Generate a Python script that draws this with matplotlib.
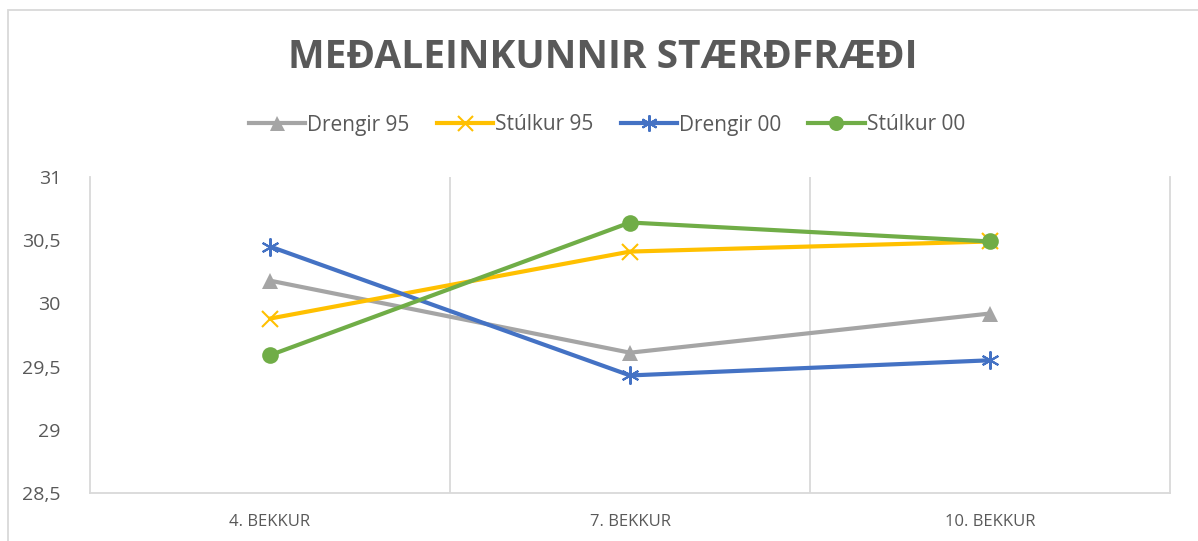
import matplotlib
matplotlib.use("Agg")
import matplotlib.pyplot as plt
from matplotlib.lines import Line2D
from matplotlib.patches import Rectangle

plt.rcParams['font.family'] = ['Open Sans', 'DejaVu Sans']

categories = ["4. BEKKUR", "7. BEKKUR", "10. BEKKUR"]
series_names = ["Drengir 95", "Stúlkur 95", "Drengir 00", "Stúlkur 00"]
drengir_95 = [30.18, 29.61, 29.92]
stulkur_95 = [29.88, 30.41, 30.49]
drengir_00 = [30.45, 29.43, 29.55]
stulkur_00 = [29.59, 30.64, 30.49]
y_ticks = [28.5, 29, 29.5, 30, 30.5, 31]
y_tick_labels = ["28,5", "29", "29,5", "30", "30,5", "31"]
title = "MEÐALEINKUNNIR STÆRÐFRÆÐI"

W, H = 1198, 541
fig = plt.figure(figsize=(W / 100, H / 100), dpi=100)
ax = fig.add_axes([90 / W, 1 - 493 / H, (1170 - 90) / W, (493 - 177) / H])

txt = "#595959"
grid = "#d9d9d9"

styles = [
    dict(color="#a5a5a5", marker="^", markersize=12, markeredgewidth=0),
    dict(color="#ffc000", marker="x", markersize=12, markeredgewidth=1.5),
    dict(color="#4472c4", marker=(6, 2, 0), markersize=13, markeredgewidth=1.5),
    dict(color="#70ad47", marker="o", markersize=12, markeredgewidth=0),
]
data = [drengir_95, stulkur_95, drengir_00, stulkur_00]
x = list(range(len(categories)))
for name, vals, st in zip(series_names, data, styles):
    ax.plot(x, vals, lw=3, label=name, solid_capstyle="round", **st)

ax.set_xlim(-0.5, len(categories) - 0.5)
ax.set_ylim(28.5, 31)
ax.set_yticks(y_ticks)
ax.set_yticklabels(y_tick_labels, fontsize=14, color=txt)
ax.set_xticks(x)
ax.set_xticklabels(categories, fontsize=12, color=txt)
ax.tick_params(axis="both", length=0)
ax.tick_params(axis="y", pad=21)
ax.tick_params(axis="x", pad=15)
for b in [0.5, 1.5]:
    ax.axvline(b, color=grid, lw=1.3, zorder=0)
ax.spines["top"].set_visible(False)
for s in ["left", "right", "bottom"]:
    ax.spines[s].set_color(grid)
    ax.spines[s].set_linewidth(1.3)

fig.text(603 / W, 1 - 57 / H, title, ha="center", va="center",
         fontsize=28, fontweight="bold", color=txt)

handles = [Line2D([], [], lw=3, color=st["color"], marker=st["marker"],
                  markersize=st["markersize"] * 0.9,
                  markeredgewidth=st["markeredgewidth"]) for st in styles]
fig.legend(handles, series_names, loc="center", bbox_to_anchor=(607 / W, 1 - 125 / H),
           ncol=4, frameon=False, fontsize=15, labelcolor=txt, handlelength=2.7,
           handletextpad=0.1, columnspacing=1.3)

fig.patches.append(Rectangle((8 / W, -0.1), 1.2, 1 - 10 / H + 0.1, transform=fig.transFigure,
                             fill=False, edgecolor=grid, lw=1.3))

fig.savefig("out.png", dpi=100, facecolor="white")
